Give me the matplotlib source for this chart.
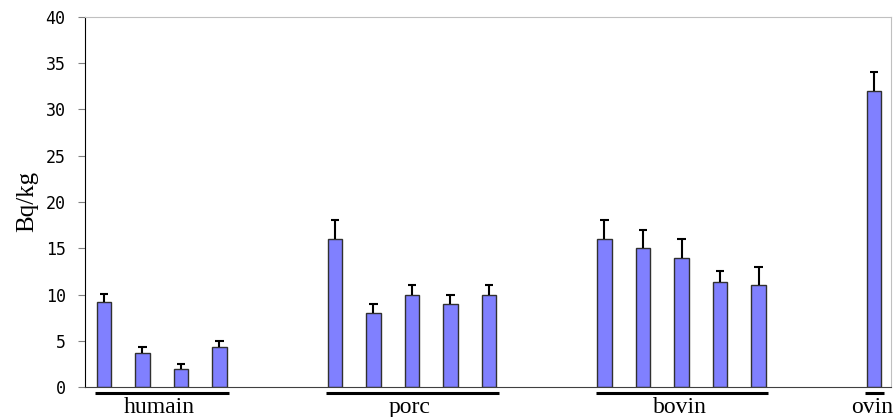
import matplotlib.pyplot as plt
import numpy as np

# groups of samples, value and upper error (Bq/kg)
groups = ["humain", "porc", "bovin", "ovin"]
slots = [[0, 1, 2, 3], [6, 7, 8, 9, 10], [13, 14, 15, 16, 17], [20]]
values = [[9.2, 3.7, 2.0, 4.4],
          [16, 8, 10, 9, 10],
          [16, 15, 14, 11.4, 11],
          [32]]
errors = [[0.9, 0.65, 0.55, 0.6],
          [2, 1, 1, 1, 1],
          [2, 2, 2, 1.1, 2],
          [2]]
yticks = [0, 5, 10, 15, 20, 25, 30, 35, 40]

fig = plt.figure(figsize=(8.96, 4.17), dpi=100)
ax = fig.add_axes([0.0949, 0.0712, 0.8995, 0.8892])
tr = ax.get_xaxis_transform()

for name, xs, vals, errs in zip(groups, slots, values, errors):
    xs = np.array(xs)
    tops = np.array(vals) + np.array(errs)
    ax.bar(xs, vals, width=0.37, color="#8080ff", edgecolor="#303030",
           linewidth=1, zorder=2)
    # upper error bar only
    ax.vlines(xs, vals, tops, color="black", lw=1.5, zorder=3)
    ax.hlines(tops, xs - 0.11, xs + 0.11, color="black", lw=1.5, zorder=3)
    # underline of the group, with its name
    ax.plot([xs[0] - 0.23, xs[-1] + 0.25], [-0.016, -0.016], color="black",
            lw=2.2, transform=tr, clip_on=False, solid_capstyle="butt")
    ax.text((xs[0] + xs[-1]) / 2 - 0.05, -0.069, name, transform=tr,
            ha="center", va="baseline", fontsize=17,
            family="Liberation Serif")

ax.set_xlim(-0.49, 20.44)
ax.set_ylim(0, 40)
ax.set_yticks(yticks)
ax.set_yticklabels([str(t) for t in yticks], family="DejaVu Sans Mono",
                   fontsize=12)
ax.tick_params(axis="y", length=5, color="#808080", pad=9)
ax.set_xticks([])
ax.set_ylabel("Bq/kg", family="Liberation Serif", fontsize=18, labelpad=5)

ax.spines["left"].set_color("black")
ax.spines["bottom"].set_color("#404040")
ax.spines["top"].set_color("#c0c0c0")
ax.spines["right"].set_color("#c0c0c0")

fig.savefig("out.png", dpi=100)
